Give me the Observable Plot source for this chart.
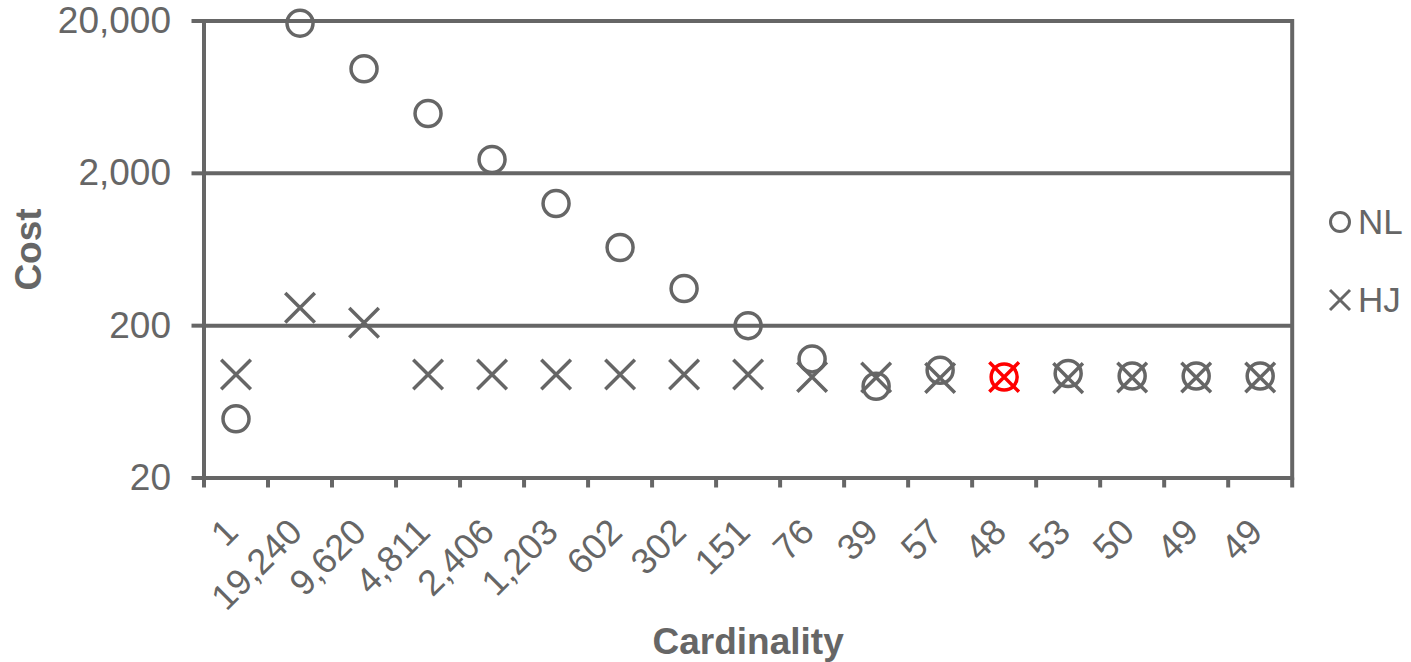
<!DOCTYPE html>
<html>
<head>
<meta charset="utf-8">
<script src="https://cdn.jsdelivr.net/npm/d3@7"></script>
<script src="https://cdn.jsdelivr.net/npm/@observablehq/plot@0.6"></script>
<style>
  html, body { margin: 0; padding: 0; background: #fff; }
  #wrap { position: relative; width: 1411px; height: 662px; font-family: Arial, "Liberation Sans", sans-serif; color: #666; }
  .lg { position: absolute; left: 1328px; height: 40px; display: flex; align-items: center; font-size: 35px; color: #666; }
  .lg svg { margin-right: 6px; }
</style>
</head>
<body>
<div id="wrap">
  <div id="chart"></div>
  <div class="lg" style="top:202px">
    <svg width="24" height="24" viewBox="-12 -12 24 24"><circle r="9.5" fill="none" stroke="#666" stroke-width="3"/></svg>NL
  </div>
  <div class="lg" style="top:280px">
    <svg width="24" height="24" viewBox="-12 -12 24 24"><path d="M-10,-10L10,10M10,-10L-10,10" fill="none" stroke="#666" stroke-width="3"/></svg>HJ
  </div>
</div>
<script>
const categories = ["1", "19,240", "9,620", "4,811", "2,406", "1,203", "602", "302", "151", "76", "39", "57", "48", "53", "50", "49", "49"];
const nlCost = [49, 19350, 9710, 4940, 2466, 1268, 652, 351, 200, 121, 80, 102, 92, 97, 93.5, 93.5, 93.5];
const hjCost = [95.6, 262, 209, 95.6, 95.6, 95.6, 95.6, 95.6, 95.6, 92, 91.4, 90.7, 92, 90.5, 91.4, 91.4, 91.4];
const highlightIndex = 12;
const yTicks = [20, 200, 2000, 20000];

const gray = "#666666";
const red = "#ff0000";
const idx = d3.range(categories.length);
const col = i => (i === highlightIndex ? red : gray);

const chart = Plot.plot({
  width: 1411,
  height: 662,
  marginLeft: 203.5,
  marginRight: 119.3,
  marginTop: 20.5,
  marginBottom: 184.5,
  style: { fontFamily: "Arial, 'Liberation Sans', sans-serif", color: gray, background: "white", overflow: "visible" },
  x: { type: "linear", domain: [0, categories.length], axis: null },
  y: { type: "log", domain: [20, 20000], axis: null },
  color: { type: "identity" },
  marks: [
    Plot.gridY(yTicks, { stroke: gray, strokeOpacity: 1, strokeWidth: 4 }),
    Plot.frame({ stroke: gray, strokeWidth: 4 }),
    Plot.axisY({ ticks: yTicks, tickSize: 12, tickPadding: 21, tickFormat: d3.format(","), fontSize: 37, stroke: gray, strokeWidth: 4 }),
    Plot.axisX({ ticks: d3.range(0, categories.length + 1), tickSize: 10, tickFormat: () => "", stroke: gray, strokeWidth: 4 }),
    Plot.text(idx, {
      x: i => i + 0.5, text: i => categories[i], frameAnchor: "bottom",
      rotate: -45, textAnchor: "end", lineAnchor: "middle", dy: 48, dx: -4,
      fontSize: 36, fill: gray
    }),
    Plot.text(["Cost"], { frameAnchor: "left", textAnchor: "middle", rotate: -90, dx: -175, fontSize: 37, fontWeight: "bold", fill: gray, lineAnchor: "middle" }),
    Plot.text(["Cardinality"], { frameAnchor: "bottom", textAnchor: "middle", dy: 164, fontSize: 37, fontWeight: "bold", fill: gray, lineAnchor: "middle" }),
    Plot.dot(idx, { x: i => i + 0.5, y: i => nlCost[i], r: 13, symbol: "circle", fill: "none", stroke: col, strokeWidth: 3.5 }),
    Plot.dot(idx, { x: i => i + 0.5, y: i => hjCost[i], r: 13.5, symbol: "times", fill: "none", stroke: col, strokeWidth: 3.5 })
  ]
});
document.getElementById("chart").appendChild(chart);
</script>
</body>
</html>
